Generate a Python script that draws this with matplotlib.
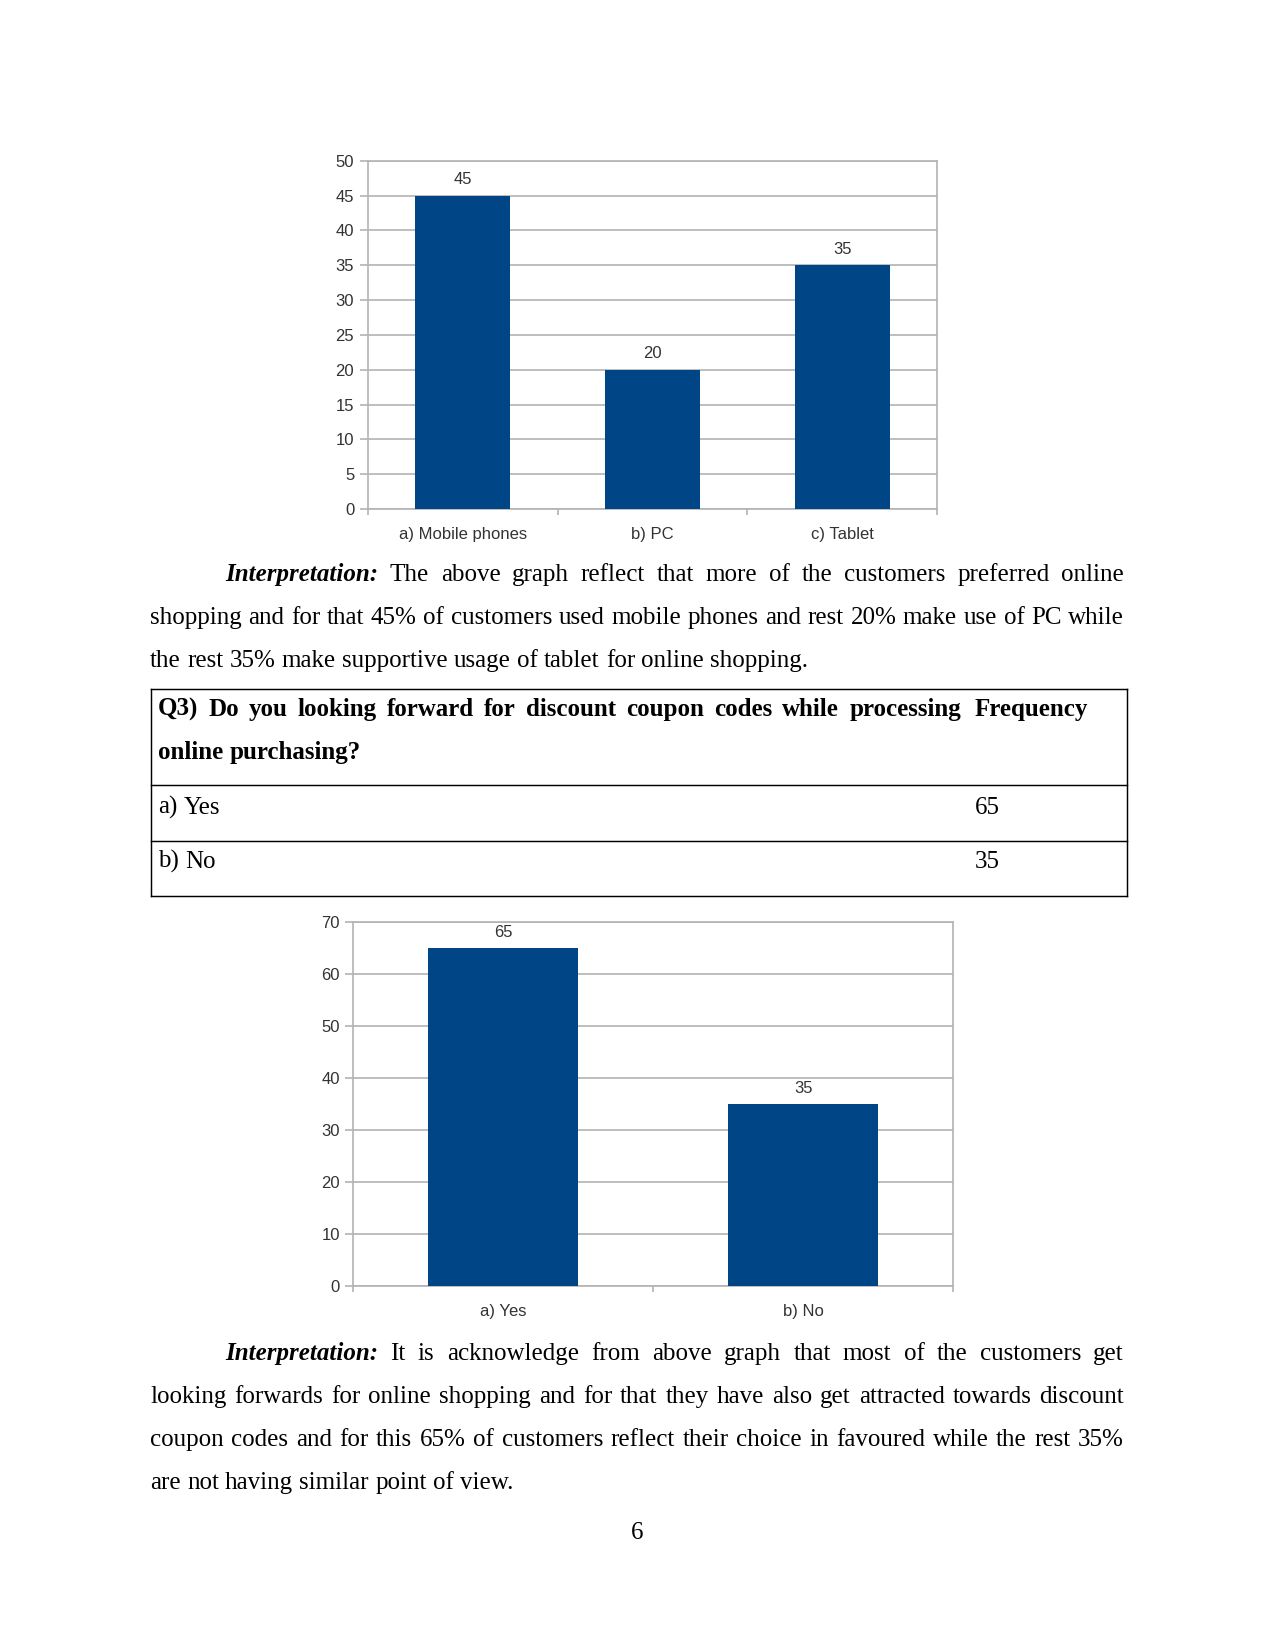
"""Survey page: device usage + coupon-code bar charts with interpretation text."""
import matplotlib
matplotlib.use("Agg")
import matplotlib.pyplot as plt
from matplotlib.font_manager import FontProperties
from matplotlib.lines import Line2D

devices = ["a) Mobile phones", "b) PC", "c) Tablet"]
device_counts = [45, 20, 35]
coupon_answers = ["a) Yes", "b) No"]
coupon_counts = [65, 35]
q3_text = ["Q3) Do you looking forward for discount coupon codes while processing",
           "online purchasing?"]

para1 = [
    "The above graph reflect that more of the customers preferred online",
    "shopping and for that 45% of customers used mobile phones and rest 20% make use of PC while",
    "the rest 35% make supportive usage of tablet for online shopping.",
]
para2 = [
    "It is acknowledge from above graph that most of the customers get",
    "looking forwards for online shopping and for that they have also get attracted towards discount",
    "coupon codes and for this 65% of customers reflect their choice in favoured while the rest 35%",
    "are not having similar point of view.",
]

W, H, DPI = 1275, 1651, 150
BAR = "#004586"
GRID = "#b3b3b3"
TXT = "#333333"
SERIF = FontProperties(family="Liberation Serif", size=12)
SERIF_BI = FontProperties(family="Liberation Serif", size=12, weight="bold",
                          style="italic")
SERIF_B = FontProperties(family="Liberation Serif", size=12, weight="bold")

fig = plt.figure(figsize=(W / DPI, H / DPI), dpi=DPI)
renderer = fig.canvas.get_renderer()


def fx(x):
    return x / W


def fy(y):
    return 1 - y / H


def width_of(s, fp):
    t = fig.text(0, 0, s, fontproperties=fp)
    w = t.get_window_extent(renderer).width
    t.remove()
    return w


def put_line(segments, x0, x1, y, justify=True):
    # segments: list of (text, fontprops); words are spread to fill x0..x1
    words = []
    for s, fp in segments:
        words += [(w, fp) for w in s.split()]
    widths = [width_of(w, fp) for w, fp in words]
    if justify and len(words) > 1:
        gap = (x1 - x0 - sum(widths)) / (len(words) - 1)
    else:
        gap = width_of("a a", SERIF) - width_of("aa", SERIF)
    x = x0
    for (w, fp), wd in zip(words, widths):
        fig.text(fx(x), fy(y), w, fontproperties=fp, va="baseline",
                 ha="left", color="black")
        x += wd + gap


def bar_chart(box, cats, vals, ymax, step):
    l, r, t, b = box
    ax = fig.add_axes([fx(l), fy(b), fx(r - l), (b - t) / H])
    n = len(cats)
    ax.bar(range(n), vals, width=0.5, color=BAR, zorder=3)
    ax.set_xlim(-0.5, n - 0.5)
    ax.set_ylim(0, ymax)
    ax.set_yticks(range(0, ymax + 1, step))
    ax.yaxis.grid(True, color=GRID, lw=0.8, zorder=0)
    ax.set_xticks([i - 0.5 for i in range(n + 1)], minor=False)
    ax.set_xticklabels([])
    ax.set_xticks(range(n), minor=True)
    ax.set_xticklabels(cats, minor=True)
    ax.tick_params(axis="x", which="major", length=3, color=GRID, width=0.8)
    ax.tick_params(axis="x", which="minor", length=0, pad=8.5, labelsize=8,
                   labelcolor=TXT)
    ax.tick_params(axis="y", length=4, color=GRID, width=0.8, pad=2.5,
                   labelsize=8, labelcolor=TXT)
    for lab in ax.get_xticklabels(minor=True) + ax.get_yticklabels():
        lab.set_family("Liberation Sans")
    for sp in ax.spines.values():
        sp.set_color(GRID)
        sp.set_linewidth(0.8)
    for i, v in enumerate(vals):
        ax.annotate(str(v), (i, v), xytext=(0, 4), textcoords="offset points",
                    ha="center", va="bottom", fontsize=8, color=TXT,
                    family="Liberation Sans")
    return ax


bar_chart((367.7, 937.3, 160.7, 509), devices, device_counts, 50, 5)

L, R = 150, 1124
put_line([("Interpretation:", SERIF_BI), (para1[0], SERIF)], 225, R, 581)
put_line([(para1[1], SERIF)], L, R, 624)
put_line([(para1[2], SERIF)], L, R, 667, justify=False)

# table
tl, tr = 150.5, 1126.5
for y in (688.5, 785.5, 841, 896):
    fig.add_artist(Line2D([fx(tl), fx(tr)], [fy(y), fy(y)], color="black",
                          lw=0.7))
for x in (tl, tr):
    fig.add_artist(Line2D([fx(x), fx(x)], [fy(688.5), fy(896)], color="black",
                          lw=0.7))
put_line([(q3_text[0], SERIF_B)], 158, 961, 716)
put_line([(q3_text[1], SERIF_B)], 158, 961, 759, justify=False)
put_line([("Frequency", SERIF_B)], 975, R, 716, justify=False)
for (ans, cnt), y in zip(zip(coupon_answers, coupon_counts), (814, 868)):
    put_line([(ans, SERIF)], 158, 961, y, justify=False)
    put_line([(str(cnt), SERIF)], 975, R, y, justify=False)

bar_chart((353.3, 953.3, 922.3, 1286), coupon_answers, coupon_counts, 70, 10)

put_line([("Interpretation:", SERIF_BI), (para2[0], SERIF)], 225, R, 1360)
put_line([(para2[1], SERIF)], L, R, 1403)
put_line([(para2[2], SERIF)], L, R, 1446)
put_line([(para2[3], SERIF)], L, R, 1489, justify=False)

fig.text(fx(637), fy(1539), "6", fontproperties=SERIF, ha="center",
         va="baseline")

fig.savefig("out.png", dpi=DPI)
